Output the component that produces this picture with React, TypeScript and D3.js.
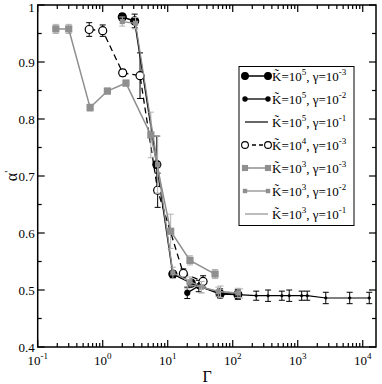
import React, { useEffect, useRef } from "react";
import * as d3 from "d3";

// Gamma values, alpha' values and error bars per series
const s1G = [2, 3.1, 6.8, 12, 23, 64, 120];
const s1A = [0.979, 0.972, 0.72, 0.528, 0.512, 0.493, 0.492];
const s1E = [0.006, 0.012, 0.05, 0.006, 0.006, 0.006, 0.006];

const s2G = [20, 30, 64, 120];
const s2A = [0.495, 0.507, 0.494, 0.492];
const s2E = [0.01, 0.01, 0.008, 0.008];

const s3G = [120, 230, 350, 570, 740, 1150, 1400, 2700, 6300, 12600];
const s3A = [0.492, 0.49, 0.49, 0.49, 0.49, 0.49, 0.49, 0.486, 0.486, 0.486];
const s3E = [0.008, 0.008, 0.01, 0.008, 0.01, 0.008, 0.008, 0.01, 0.01, 0.01];

const s4G = [0.62, 1.0, 2.03, 3.75, 7, 17.4, 35];
const s4A = [0.957, 0.955, 0.881, 0.876, 0.675, 0.529, 0.515];
const s4E = [0.012, 0.01, 0.006, 0.04, 0.03, 0.008, 0.01];

const s5G = [0.19, 0.3, 0.64, 1.18, 2.28, 5.5, 11.1, 22, 53.5];
const s5A = [0.958, 0.958, 0.82, 0.849, 0.863, 0.772, 0.603, 0.552, 0.528];
const s5E = [0.008, 0.008, 0.006, 0.005, 0.005, 0.04, 0.03, 0.008, 0.008];

const s6G = [2, 3.2, 7, 12, 22, 33, 60, 120];
const s6A = [0.971, 0.968, 0.72, 0.53, 0.515, 0.505, 0.497, 0.495];
const s6E = [0.008, 0.01, 0.05, 0.01, 0.008, 0.01, 0.008, 0.008];

const s7G = [20, 33, 65, 130];
const s7A = [0.51, 0.505, 0.497, 0.494];
const s7E = [0.008, 0.01, 0.01, 0.008];

const yTicks = [0.4, 0.5, 0.6, 0.7, 0.8, 0.9, 1];
const xDecades = [-1, 0, 1, 2, 3, 4];

const legendK = ["5", "5", "5", "4", "3", "3", "3"];
const legendG = ["-3", "-2", "-1", "-3", "-3", "-2", "-1"];

const GRAY = "#8f8f8f";
const LGRAY = "#b0b0b0";

const series = [
  { g: s1G, a: s1A, e: s1E, color: "#000", ecolor: "#000", lw: 1.5, mark: "circle", r: 4, fill: "#000", dash: null },
  { g: s2G, a: s2A, e: s2E, color: "#000", ecolor: "#000", lw: 1.3, mark: "circle", r: 2.5, fill: "#000", dash: null },
  { g: s3G, a: s3A, e: s3E, color: "#000", ecolor: "#000", lw: 1.2, mark: "dot", r: 1.3, fill: "#000", dash: null },
  { g: s4G, a: s4A, e: s4E, color: "#000", ecolor: "#000", lw: 1.3, mark: "circle", r: 4, fill: "#fff", dash: "6,4" },
  { g: s5G, a: s5A, e: s5E, color: GRAY, ecolor: LGRAY, lw: 1.5, mark: "square", r: 3.6, fill: GRAY, dash: null },
  { g: s6G, a: s6A, e: s6E, color: GRAY, ecolor: LGRAY, lw: 1.3, mark: "square", r: 2.6, fill: GRAY, dash: null },
  { g: s7G, a: s7A, e: s7E, color: GRAY, ecolor: LGRAY, lw: 1.2, mark: "none", r: 0, fill: "none", dash: null },
];

const W = 382;
const H = 384;
const m = { left: 37.7, right: 376, top: 5, bottom: 347 };

const App = () => {
  const svgRef = useRef<SVGSVGElement>(null);

  useEffect(() => {
    const svg = d3.select(svgRef.current);
    svg.selectAll("*").remove();
    const font = "Liberation Serif, Times New Roman, serif";

    const x = d3.scaleLog().domain([0.1, 16000]).range([m.left, m.right]);
    const y = d3.scaleLinear().domain([0.4, 1]).range([m.bottom, m.top]);

    const plot = svg.append("g");

    // series
    series.forEach((s) => {
      const pts = s.g.map((g, i) => ({ g, a: s.a[i], e: s.e[i] }));
      const line = d3.line<any>().x((d) => x(d.g)).y((d) => y(d.a));
      // error bars
      const eb = plot.append("g").attr("stroke", s.ecolor).attr("stroke-width", 1);
      pts.forEach((p) => {
        const cx = x(p.g);
        eb.append("line").attr("x1", cx).attr("x2", cx).attr("y1", y(p.a - p.e)).attr("y2", y(p.a + p.e));
        eb.append("line").attr("x1", cx - 3).attr("x2", cx + 3).attr("y1", y(p.a - p.e)).attr("y2", y(p.a - p.e));
        eb.append("line").attr("x1", cx - 3).attr("x2", cx + 3).attr("y1", y(p.a + p.e)).attr("y2", y(p.a + p.e));
      });
      plot.append("path")
        .attr("d", line(pts))
        .attr("fill", "none")
        .attr("stroke", s.color)
        .attr("stroke-width", s.lw)
        .attr("stroke-dasharray", s.dash);
      if (s.mark === "circle" || s.mark === "dot") {
        plot.append("g").selectAll("circle").data(pts).join("circle")
          .attr("cx", (d) => x(d.g)).attr("cy", (d) => y(d.a)).attr("r", s.r)
          .attr("fill", s.fill).attr("stroke", "#000").attr("stroke-width", s.mark === "dot" ? 0.5 : 1.2);
      } else if (s.mark === "square") {
        plot.append("g").selectAll("rect").data(pts).join("rect")
          .attr("x", (d) => x(d.g) - s.r).attr("y", (d) => y(d.a) - s.r)
          .attr("width", s.r * 2).attr("height", s.r * 2).attr("fill", s.fill);
      }
    });

    // frame
    svg.append("rect")
      .attr("x", m.left).attr("y", m.top)
      .attr("width", m.right - m.left).attr("height", m.bottom - m.top)
      .attr("fill", "none").attr("stroke", "#000").attr("stroke-width", 1.5);

    const ticks = svg.append("g").attr("stroke", "#000").attr("stroke-width", 1.2);
    // y ticks
    d3.range(0.4, 1.0001, 0.05).forEach((v) => {
      const major = Math.abs(v * 10 - Math.round(v * 10)) < 1e-6;
      const len = major ? 7 : 4;
      ticks.append("line").attr("x1", m.left).attr("x2", m.left + len).attr("y1", y(v)).attr("y2", y(v));
      ticks.append("line").attr("x1", m.right).attr("x2", m.right - len).attr("y1", y(v)).attr("y2", y(v));
    });
    // x ticks
    xDecades.forEach((dcd) => {
      for (let k = 1; k <= 9; k++) {
        const v = k * Math.pow(10, dcd);
        if (v > 16000) continue;
        const len = k === 1 ? 7 : 4;
        const px = x(v);
        ticks.append("line").attr("x1", px).attr("x2", px).attr("y1", m.bottom).attr("y2", m.bottom - len);
        ticks.append("line").attr("x1", px).attr("x2", px).attr("y1", m.top).attr("y2", m.top + len);
      }
    });

    // y labels
    svg.append("g").selectAll("text").data(yTicks).join("text")
      .attr("x", m.left - 3).attr("y", (d) => Math.max(y(d) + 4.5, 12))
      .attr("text-anchor", "end").attr("font-family", font).attr("font-size", 13)
      .text((d) => (d === 1 ? "1" : d.toFixed(1)));

    // x labels
    xDecades.forEach((dcd) => {
      const t = svg.append("text")
        .attr("x", x(Math.pow(10, dcd)))
        .attr("y", 365)
        .attr("text-anchor", "middle")
        .attr("font-family", font).attr("font-size", 13);
      t.append("tspan").text("10");
      t.append("tspan").attr("dy", -6).attr("font-size", 9).text(String(dcd));
    });

    svg.append("text").attr("x", 207).attr("y", 382).attr("text-anchor", "middle")
      .attr("font-family", font).attr("font-size", 16).text("Γ");

    const yl = svg.append("text").attr("transform", "translate(17,176) rotate(-90)")
      .attr("text-anchor", "middle").attr("font-family", font).attr("font-size", 16);
    yl.append("tspan").text("α");
    yl.append("tspan").attr("dy", -5).attr("font-size", 11).text("'");

    // legend
    const lg = svg.append("g");
    lg.append("rect").attr("x", 239).attr("y", 66.5).attr("width", 115).attr("height", 159)
      .attr("fill", "#fff").attr("stroke", "#000").attr("stroke-width", 1);
    series.forEach((s, i) => {
      const cy = 76 + i * 23;
      lg.append("line").attr("x1", 245).attr("x2", 268).attr("y1", cy).attr("y2", cy)
        .attr("stroke", s.color).attr("stroke-width", s.lw).attr("stroke-dasharray", s.dash ? "4,3" : null);
      [245, 268].forEach((px) => {
        if (s.mark === "circle") {
          lg.append("circle").attr("cx", px).attr("cy", cy).attr("r", s.r * 0.85)
            .attr("fill", s.fill).attr("stroke", "#000").attr("stroke-width", 1.1);
        } else if (s.mark === "square") {
          lg.append("rect").attr("x", px - s.r * 0.85).attr("y", cy - s.r * 0.85)
            .attr("width", s.r * 1.7).attr("height", s.r * 1.7).attr("fill", s.fill);
        }
      });
      const t = lg.append("text").attr("x", 272).attr("y", cy + 5)
        .attr("font-family", font).attr("font-size", 13);
      t.append("tspan").text("K\u0303=10");
      t.append("tspan").attr("dy", -6).attr("font-size", 9).text(legendK[i]);
      t.append("tspan").attr("dy", 6).text(", γ=10");
      t.append("tspan").attr("dy", -6).attr("font-size", 9).text(legendG[i]);
    });
  }, []);

  return (
    <svg
      ref={svgRef}
      width={W}
      height={H}
      style={{ position: "absolute", left: 0, top: 0, background: "#fff" }}
    />
  );
};

export default App;
